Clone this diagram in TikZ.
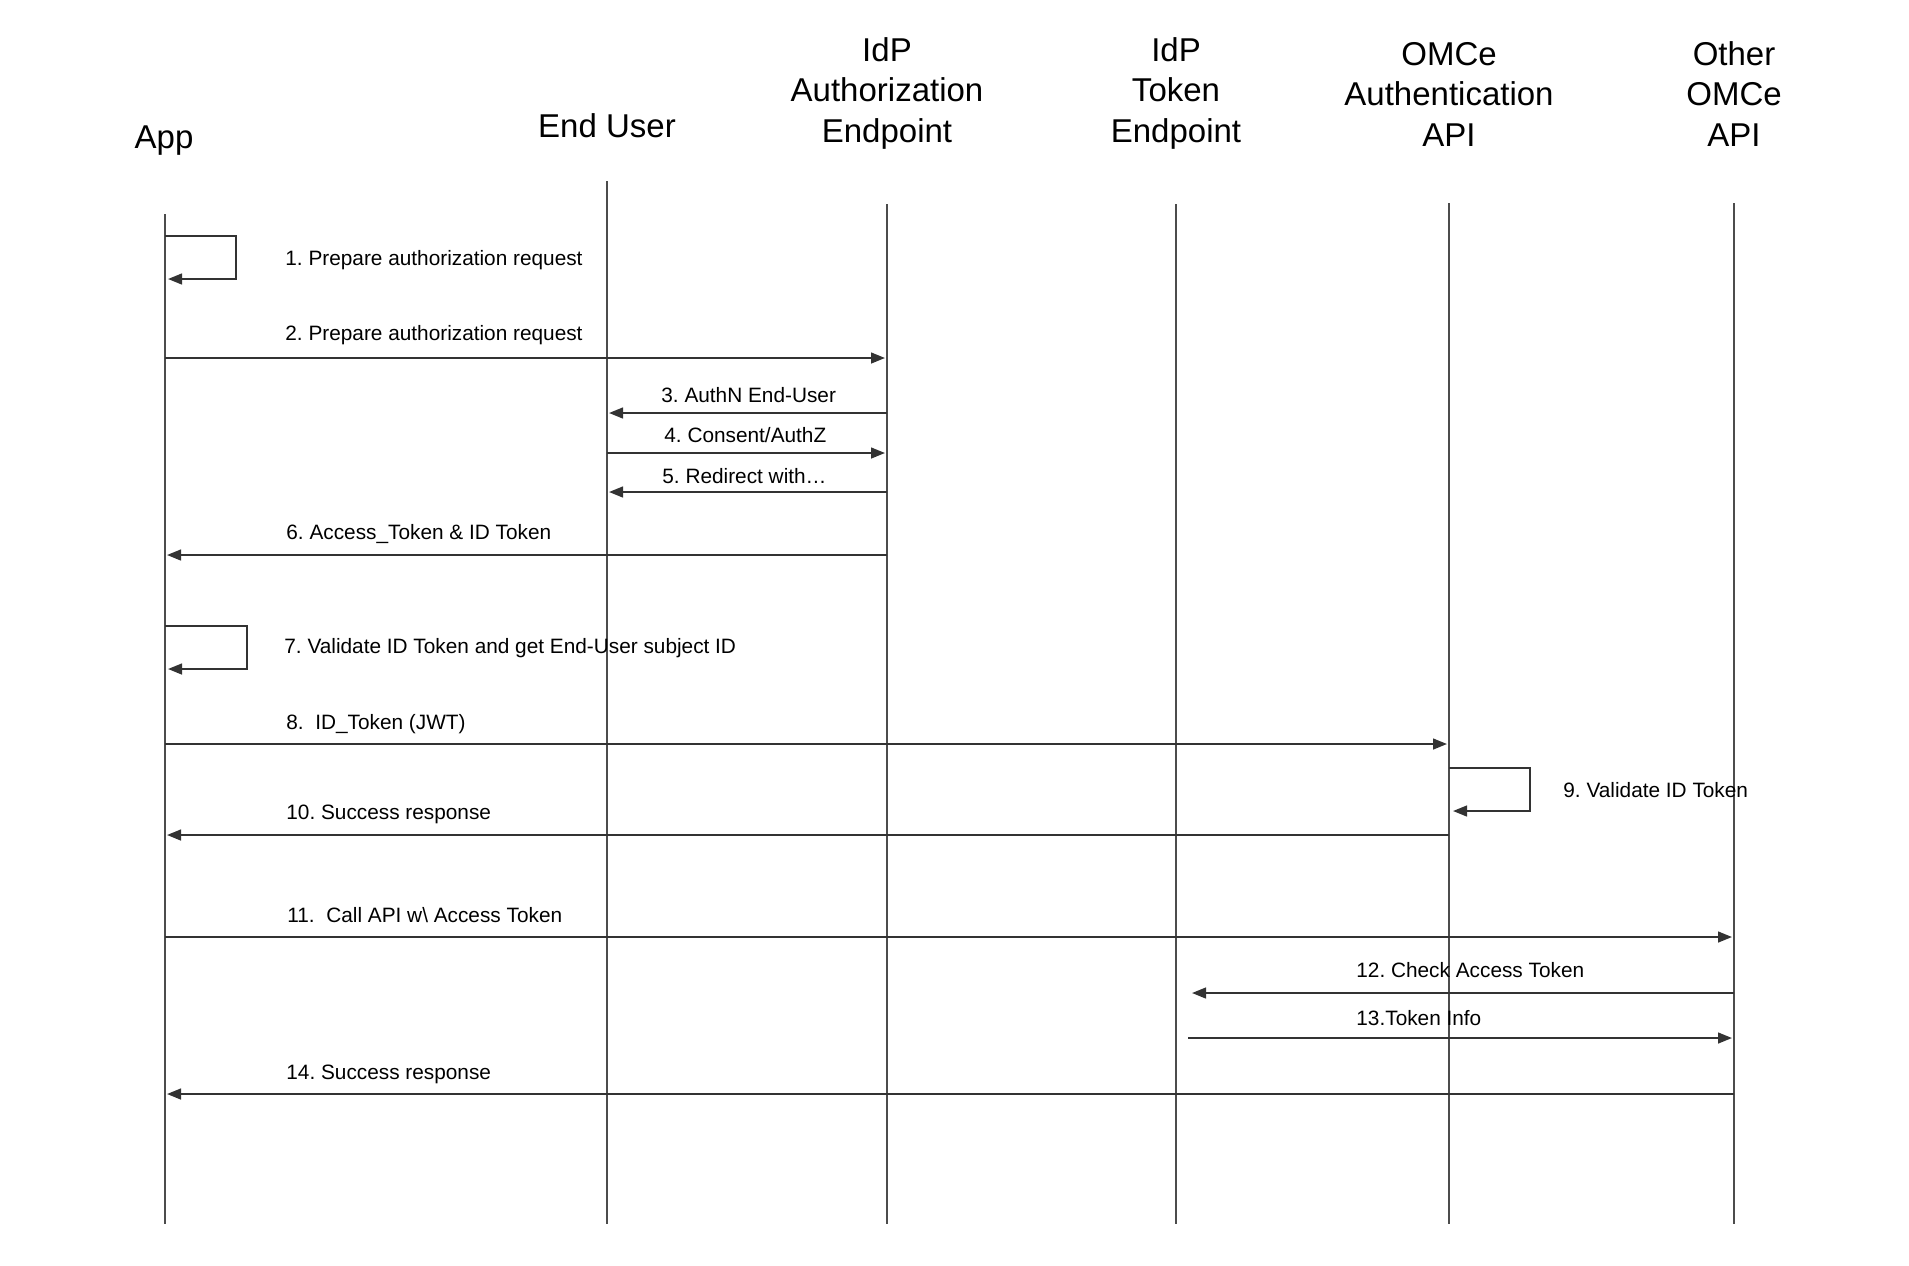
\documentclass[tikz,border=0pt]{standalone}
\usepackage{fontspec}
\setmainfont{Liberation Sans}
\usetikzlibrary{arrows.meta}
\begin{document}
\frenchspacing
\begin{tikzpicture}[
  x=0.5pt, y=-0.5pt,
  hdr/.style={align=center, font=\fontsize{16.5}{20.25}\selectfont, inner sep=0pt, anchor=base},
  lbl/.style={font=\fontsize{10.4}{12.5}\selectfont, inner sep=0pt, anchor=base west},
  lifeline/.style={draw=black!70, line width=0.75pt},
  msg/.style={draw=black!80, line width=1pt, shorten >=1pt, -{Triangle[length=7pt,width=5.4pt]}}
]
\useasboundingbox (0,0) rectangle (1909,1265);

% Participants (base = last line)
\node[hdr] (app) at (164,148) {App};
\node[hdr] (user) at (607,137) {End User};
\node[hdr] (authep) at (887,142) {IdP\\Authorization\\Endpoint};
\node[hdr] (tokenep) at (1176,142) {IdP\\Token\\Endpoint};
\node[hdr] (omceauth) at (1449,146) {OMCe\\Authentication\\API};
\node[hdr] (omceapi) at (1734,146) {Other\\OMCe\\API};

% Lifelines
\coordinate (app_top) at (165,214);       \coordinate (app_bot) at (165,1224);
\coordinate (user_top) at (607,181);      \coordinate (user_bot) at (607,1224);
\coordinate (authep_top) at (887,204);    \coordinate (authep_bot) at (887,1224);
\coordinate (tokenep_top) at (1176,204);  \coordinate (tokenep_bot) at (1176,1224);
\coordinate (omceauth_top) at (1449,203); \coordinate (omceauth_bot) at (1449,1224);
\coordinate (omceapi_top) at (1734,203);  \coordinate (omceapi_bot) at (1734,1224);

\draw[lifeline] (app_top) -- (app_bot);
\draw[lifeline] (user_top) -- (user_bot);
\draw[lifeline] (authep_top) -- (authep_bot);
\draw[lifeline] (tokenep_top) -- (tokenep_bot);
\draw[lifeline] (omceauth_top) -- (omceauth_bot);
\draw[lifeline] (omceapi_top) -- (omceapi_bot);

% Message rows
\coordinate (m1) at (0,236);
\coordinate (m2) at (0,358);
\coordinate (m3) at (0,413);
\coordinate (m4) at (0,453);
\coordinate (m5) at (0,492);
\coordinate (m6) at (0,555);
\coordinate (m7) at (0,626);
\coordinate (m8) at (0,744);
\coordinate (m9) at (0,768);
\coordinate (m10) at (0,835);
\coordinate (m11) at (0,937);
\coordinate (m12) at (0,993);
\coordinate (m13) at (0,1038);
\coordinate (m14) at (0,1094);

% Messages
\draw[msg] (app_top |- m1) -- ++(71,0) -- ++(0,43) -- ++(-70,0);
\draw[msg] (app_top |- m2) -- (authep_top |- m2);
\draw[msg] (authep_top |- m3) -- (user_top |- m3);
\draw[msg] (user_top |- m4) -- (authep_top |- m4);
\draw[msg] (authep_top |- m5) -- (user_top |- m5);
\draw[msg] (authep_top |- m6) -- (app_top |- m6);
\draw[msg] (app_top |- m7) -- ++(82,0) -- ++(0,43) -- ++(-81,0);
\draw[msg] (app_top |- m8) -- (omceauth_top |- m8);
\draw[msg] (omceauth_top |- m9) -- ++(81,0) -- ++(0,43) -- ++(-79,0);
\draw[msg] (omceauth_top |- m10) -- (app_top |- m10);
\draw[msg] (app_top |- m11) -- (omceapi_top |- m11);
\draw[msg] (omceapi_top |- m12) -- ([xshift=7pt]tokenep_top |- m12);
\draw[msg] ([xshift=6pt]tokenep_top |- m13) -- (omceapi_top |- m13);
\draw[msg] (omceapi_top |- m14) -- (app_top |- m14);

% Labels
\node[lbl] (l1) at (285,265) {1. Prepare authorization request};
\node[lbl] (l2) at (285,340) {2. Prepare authorization request};
\node[lbl] (l3) at (661,402) {3. AuthN End-User};
\node[lbl] (l4) at (664,442) {4. Consent/AuthZ};
\node[lbl] (l5) at (662,483) {5. Redirect with…};
\node[lbl] (l6) at (286,539) {6. Access\_Token \& ID Token};
\node[lbl] (l7) at (284,653) {7. Validate ID Token and get End-User subject ID};
\node[lbl] (l8) at (286,729) {8.\ \ ID\_Token (JWT)};
\node[lbl] (l9) at (1563,797) {9. Validate ID Token};
\node[lbl] (l10) at (286,819) {10. Success response};
\node[lbl] (l11) at (287,922) {11.\ \ Call API w\textbackslash\ Access Token};
\node[lbl] (l12) at (1356,977) {12. Check Access Token};
\node[lbl] (l13) at (1356,1025) {13.Token Info};
\node[lbl] (l14) at (286,1079) {14. Success response};
\end{tikzpicture}
\end{document}
